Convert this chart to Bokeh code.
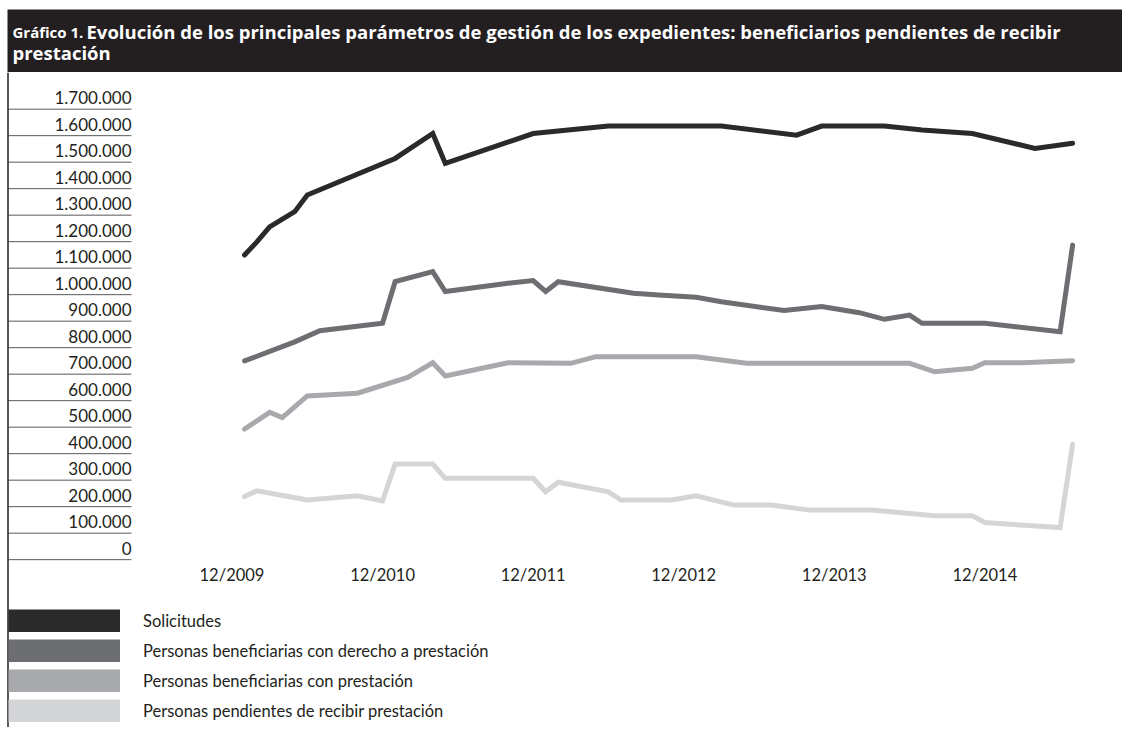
from bokeh.plotting import figure
from bokeh.models import Range1d, FixedTicker, Span, Legend, LegendItem, BoxAnnotation
from bokeh.layouts import column
from bokeh.core.properties import value
from bokeh.embed import file_html
from bokeh.resources import INLINE

# ---------------- data (month index: 0 = 12/2009) ----------------
months_sol = [1, 2, 3, 5, 6, 13, 16, 17, 24, 30, 39, 45, 47, 52, 55, 59, 64, 67]
solicitudes = [1106000, 1156000, 1212000, 1269000, 1332000, 1470000, 1564000, 1451000,
               1564000, 1592000, 1592000, 1558000, 1592000, 1592000, 1577000, 1564000,
               1508000, 1527000]

months_der = [1, 5, 7, 12, 13, 16, 17, 22, 24, 25, 26, 32, 34, 37, 39, 44, 47, 50, 52, 54,
              55, 60, 66, 67]
derecho = [706000, 778000, 820000, 848000, 1005000, 1043000, 968000, 999000, 1009000,
           968000, 1005000, 961000, 955000, 946000, 929000, 896000, 911000, 888000, 863000,
           879000, 848000, 848000, 816000, 1143000]

months_pre = [1, 3, 4, 6, 10, 14, 16, 17, 22, 27, 29, 37, 41, 54, 56, 59, 60, 63, 67]
prestacion = [449000, 512000, 492000, 574000, 584000, 644000, 699000, 649000, 699000,
              697000, 722000, 722000, 697000, 697000, 665000, 678000, 699000, 699000, 707000]

months_pen = [1, 2, 6, 10, 12, 13, 16, 17, 24, 25, 26, 30, 31, 35, 37, 40, 43, 46, 51, 56,
              59, 60, 66, 67]
pendientes = [194000, 216000, 181000, 197000, 178000, 317000, 317000, 263000, 263000,
              212000, 248000, 212000, 181000, 181000, 197000, 162000, 162000, 143000,
              143000, 122000, 122000, 96000, 77000, 392000]

series_names = ["Solicitudes",
                "Personas beneficiarias con derecho a prestación",
                "Personas beneficiarias con prestación",
                "Personas pendientes de recibir prestación"]
series_colors = ["#2b2a2a", "#6d6e71", "#a7a9ac", "#d4d5d7"]

y_ticks = [0, 100000, 200000, 300000, 400000, 500000, 600000, 700000, 800000, 900000,
           1000000, 1100000, 1200000, 1300000, 1400000, 1500000, 1600000, 1700000]
y_labels = ["0", "100.000", "200.000", "300.000", "400.000", "500.000", "600.000",
            "700.000", "800.000", "900.000", "1.000.000", "1.100.000", "1.200.000",
            "1.300.000", "1.400.000", "1.500.000", "1.600.000", "1.700.000"]
x_ticks = [0, 12, 24, 36, 48, 60]
x_labels = ["12/2009", "12/2010", "12/2011", "12/2012", "12/2013", "12/2014"]

title_small = "Gráfico 1."
title_line1 = "Evolución de los principales parámetros de gestión de los expedientes: beneficiarios pendientes de recibir"
title_line2 = "prestación"

INK = "#231f20"
W = 1122
TH = 72
H = 655

# ---------------- title bar ----------------
t = figure(width=W, height=TH, x_range=Range1d(0, W), y_range=Range1d(0, TH),
           output_backend="svg", toolbar_location=None, min_border=0)
t.axis.visible = False
t.grid.visible = False
t.outline_line_color = None
t.background_fill_color = "white"
t.border_fill_color = "white"
t.add_layout(BoxAnnotation(left=7, right=W, bottom=0, top=TH - 9, fill_color=INK,
                           fill_alpha=1, line_color=None, level="underlay"))
t.text(x=[12], y=[TH - 31], text=[title_small], text_color="white",
       text_font=value("Open Sans"), text_font_style="bold", text_font_size="15px",
       text_baseline="alphabetic")
t.text(x=[86], y=[TH - 31], text=[title_line1], text_color="white",
       text_font=value("Open Sans"), text_font_style="bold", text_font_size="18.5px",
       text_baseline="alphabetic")
t.text(x=[12], y=[TH - 52], text=[title_line2], text_color="white",
       text_font=value("Open Sans"), text_font_style="bold", text_font_size="18.5px",
       text_baseline="alphabetic")

# ---------------- main chart ----------------
px_per_month = 12.547
x0_page = 231.5          # page x of month 0
px_per_unit = 26.5 / 100000
y0_page = 547.5          # page y of value 0
top_page = TH


def m_of(page_x):
    return (page_x - x0_page) / px_per_month


def v_of(page_y):
    return (y0_page - page_y) / px_per_unit


x_start, x_end = m_of(0), m_of(W)
y_top, y_bottom = v_of(top_page), v_of(top_page + H)

p = figure(width=W, height=H, x_range=Range1d(x_start, x_end),
           y_range=Range1d(y_bottom, y_top), output_backend="svg",
           toolbar_location=None, min_border=0)
p.grid.visible = False
p.outline_line_color = None
p.background_fill_color = "white"

# y axis placed inside the frame
p.yaxis.fixed_location = m_of(134)
p.yaxis.ticker = FixedTicker(ticks=y_ticks)
p.yaxis.major_label_overrides = dict(zip(y_ticks, y_labels))
p.yaxis.axis_line_color = None
p.yaxis.major_tick_line_color = None
p.yaxis.major_tick_out = 0
p.yaxis.major_tick_in = 0
p.yaxis.minor_tick_line_color = None
p.yaxis.major_label_standoff = 3
p.yaxis.major_label_text_font = "Lato"
p.yaxis.major_label_text_font_size = "17px"
p.yaxis.major_label_text_color = INK

# x axis placed inside the frame
p.xaxis.fixed_location = v_of(561)
p.xaxis.ticker = FixedTicker(ticks=x_ticks)
p.xaxis.major_label_overrides = dict(zip(x_ticks, x_labels))
p.xaxis.axis_line_color = None
p.xaxis.major_tick_line_color = None
p.xaxis.major_tick_out = 0
p.xaxis.major_tick_in = 0
p.xaxis.minor_tick_line_color = None
p.xaxis.major_label_standoff = 3
p.xaxis.major_label_text_font = "Lato"
p.xaxis.major_label_text_font_size = "16.5px"
p.xaxis.major_label_text_color = INK

# separators under the y labels
sep_y = [tk - 44000 for tk in y_ticks]
p.segment(x0=[m_of(8)] * len(sep_y), y0=sep_y, x1=[m_of(131)] * len(sep_y), y1=sep_y,
          line_color="#58595b", line_width=1)

# left rule
p.add_layout(Span(location=m_of(7.5), dimension="height", line_color=INK, line_width=1.5))

# series
all_x = [months_sol, months_der, months_pre, months_pen]
all_y = [solicitudes, derecho, prestacion, pendientes]
for xs, ys, c in zip(all_x, all_y, series_colors):
    p.line(x=xs, y=ys, line_color=c, line_width=5, line_join="miter", line_cap="round")

# legend with block swatches (hidden wide-line renderers of the same series)
items = []
for name, xs, ys, c in zip(series_names, all_x, all_y, series_colors):
    r = p.line(x=xs, y=ys, line_color=c, line_width=23, line_cap="butt", visible=False)
    items.append(LegendItem(label=name, renderers=[r]))
legend = Legend(items=items, location=(8, 5), orientation="vertical",
                glyph_width=112, glyph_height=23, label_height=23,
                label_standoff=23, spacing=7, padding=0, margin=0,
                border_line_color=None, background_fill_alpha=0,
                inactive_fill_alpha=0, click_policy="none",
                label_text_font="Lato", label_text_font_size="16.5px",
                label_text_color=INK)
p.add_layout(legend)

layout = column(t, p, spacing=0)
open("out.html", "w").write(file_html(layout, INLINE))
